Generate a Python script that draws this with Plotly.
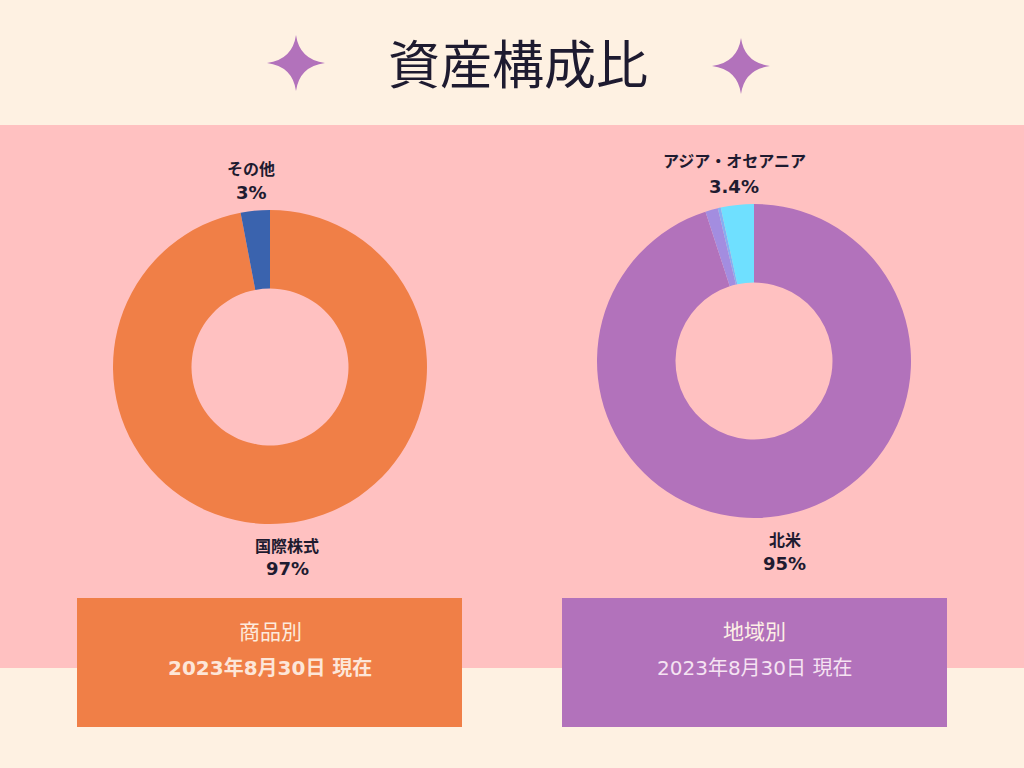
import plotly.graph_objects as go

W, H = 1024, 768

# ---- data ----
title_text = "資産構成比"
prod_labels = ["国際株式", "その他"]
prod_values = [97, 3]
prod_colors = ["#F07F47", "#3A63AE"]

region_labels = ["北米", "欧州", "その他地域", "アジア・オセアニア"]
region_values = [95, 1.3, 0.3, 3.4]
region_colors = ["#B272BB", "#A38DE0", "#86AEF2", "#6FE0FF"]

box_titles = ["商品別", "地域別"]
box_date = "2023年8月30日 現在"

BG = "#FEF1E2"
PINK = "#FFC1C1"
DARK = "#1E1B30"
FONT = "Noto Sans CJK JP"
WIDE = "DejaVu Sans, Noto Sans CJK JP"


def px(x):
    return x / W


def py(y):
    return 1 - y / H


fig = go.Figure()

fig.add_trace(go.Pie(
    labels=prod_labels, values=prod_values, hole=0.5, sort=False,
    direction="clockwise", rotation=0,
    marker=dict(colors=prod_colors, line=dict(width=0)),
    textinfo="none", hoverinfo="label+percent", showlegend=False,
    domain=dict(x=[px(113), px(427)], y=[py(524), py(210)]),
))
fig.add_trace(go.Pie(
    labels=region_labels, values=region_values, hole=0.5, sort=False,
    direction="clockwise", rotation=0,
    marker=dict(colors=region_colors, line=dict(width=0)),
    textinfo="none", hoverinfo="label+percent", showlegend=False,
    domain=dict(x=[px(597), px(911)], y=[py(518), py(204)]),
))

shapes = []
# pink band
shapes.append(dict(type="rect", xref="paper", yref="paper", x0=0, x1=1,
                   y0=py(668), y1=py(125), fillcolor=PINK, line_width=0, layer="below"))
# boxes
shapes.append(dict(type="rect", xref="paper", yref="paper", x0=px(77), x1=px(462),
                   y0=py(727), y1=py(598), fillcolor="#F07F47", line_width=0, layer="below"))
shapes.append(dict(type="rect", xref="paper", yref="paper", x0=px(562), x1=px(947),
                   y0=py(727), y1=py(598), fillcolor="#B272BB", line_width=0, layer="below"))


def sparkle(cx, cy, rx, ry, k=0.12):
    # four-point star with concave edges (pixel coords -> paper)
    pts = [(cx, cy - ry), (cx + rx, cy), (cx, cy + ry), (cx - rx, cy)]
    ctrl = [(cx + rx * k, cy - ry * k), (cx + rx * k, cy + ry * k),
            (cx - rx * k, cy + ry * k), (cx - rx * k, cy - ry * k)]
    p = f"M {px(pts[0][0])} {py(pts[0][1])}"
    for i in range(4):
        c = ctrl[i]
        n = pts[(i + 1) % 4]
        p += f" Q {px(c[0])} {py(c[1])} {px(n[0])} {py(n[1])}"
    return p + " Z"


for (cx, cy) in [(296, 63), (741, 66)]:
    shapes.append(dict(type="path", xref="paper", yref="paper",
                       path=sparkle(cx, cy, 29, 28), fillcolor="#B272BB",
                       line_width=0))

annotations = []


def ann(text, x, y, size, color=DARK, bold=False, family=FONT):
    t = f"<b>{text}</b>" if bold else text
    annotations.append(dict(text=t, x=px(x), y=py(y), xref="paper", yref="paper",
                            showarrow=False, xanchor="center", yanchor="middle",
                            font=dict(family=family, size=size, color=color)))


ann(title_text, 518, 62, 52)

# donut labels
ann(prod_labels[1], 251, 168, 16, bold=True)
ann(f"{prod_values[1]:g}%", 251, 193, 18, bold=True, family=WIDE)
ann(prod_labels[0], 287, 545, 16, bold=True)
ann(f"{prod_values[0]:g}%", 287, 568, 18, bold=True, family=WIDE)

ann(region_labels[3], 734, 160, 16, bold=True)
ann(f"{region_values[3]:g}%", 734, 186, 18, bold=True, family=WIDE)
ann(region_labels[0], 785, 539, 16, bold=True)
ann(f"{region_values[0]:g}%", 784, 563, 18, bold=True, family=WIDE)

# box texts
ann(box_titles[0], 270, 630, 21, color="#FDEBDD")
ann(box_date, 270, 668, 20, color="#FDE6D8", bold=True, family=WIDE)
ann(box_titles[1], 754, 630, 21, color="#FDEFE6")
ann(box_date, 754, 668, 20, color="#F5E3F2", family=WIDE)

fig.update_layout(
    width=W, height=H, margin=dict(l=0, r=0, t=0, b=0),
    paper_bgcolor=BG, plot_bgcolor=BG,
    shapes=shapes, annotations=annotations,
    font=dict(family=FONT),
)

fig.write_html("out.html")
